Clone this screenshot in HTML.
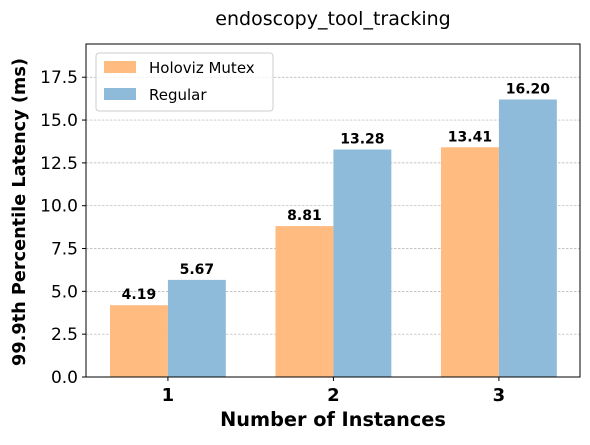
<!DOCTYPE html>
<html><head><meta charset="utf-8"><style>
body{margin:0;background:#fff;}
svg text{font-family:"DejaVu Sans","Liberation Sans",sans-serif;}
</style></head><body>
<svg id="chart" width="590" height="440" xmlns="http://www.w3.org/2000/svg">
<text x="333" y="25" text-anchor="middle" font-size="19">endoscopy_tool_tracking</text>
<g id="grid"></g>
<g id="bars"></g>
<rect x="86" y="44" width="494" height="333" fill="none" stroke="#000" stroke-width="1"/>
<g id="axes"></g>
<text x="333" y="426" text-anchor="middle" font-size="19.3" font-weight="bold">Number of Instances</text>
<text transform="translate(25,212) rotate(-90)" text-anchor="middle" font-size="17.7" font-weight="bold">99.9th Percentile Latency (ms)</text>
<g>
<rect x="96" y="53" width="177" height="58" rx="3" fill="#fff" fill-opacity="0.8" stroke="#ccc"/>
<rect x="104" y="61" width="32" height="12" fill="#ffbb80"/>
<text x="149" y="73" font-size="15">Holoviz Mutex</text>
<rect x="104" y="88" width="32" height="12" fill="#8ebbda"/>
<text x="149" y="100" font-size="15">Regular</text>
</g>
</svg>
<script>
const categories=["1","2","3"];
const holovizValues=[4.19,8.81,13.41];
const regularValues=[5.67,13.28,16.20];
const yTicks=[0,2.5,5,7.5,10,12.5,15,17.5];
const NS="http://www.w3.org/2000/svg";
const L=86,R=580,T=44,B=377,ymax=19.44,xmin=-0.495,xmax=2.49;
const y=v=>B-(v/ymax)*(B-T);
const x=v=>L+(v-xmin)/(xmax-xmin)*(R-L);
const bw=0.35*(R-L)/(xmax-xmin);
function mk(tag,attrs,parent){const e=document.createElementNS(NS,tag);for(const k in attrs)e.setAttribute(k,attrs[k]);parent.appendChild(e);return e;}
const grid=document.getElementById('grid'),bars=document.getElementById('bars'),axes=document.getElementById('axes');
yTicks.forEach(t=>{
 const g=mk('line',{x1:L,x2:R,y1:y(t),y2:y(t),stroke:'#b0b0b0','stroke-width':0.7,'stroke-dasharray':'2.5,1.5'},grid);
 
 
 const tk=mk('line',{x1:L-4,x2:L,y1:y(t),y2:y(t),stroke:'#000'},axes);
 
 
 const tx=mk('text',{x:L-8,y:y(t)+6,'text-anchor':'end','font-size':17},axes);
 tx.textContent=t.toFixed(1);
 
 
});
categories.forEach((c,i)=>{
 const cx=x(i);
 [[holovizValues[i],'#ffbb80',-1,'bar-holoviz'],[regularValues[i],'#8ebbda',0,'bar-regular']].forEach(([v,col,off,nm])=>{
  const bx=cx+off*bw;
  const r=mk('rect',{x:bx,y:y(v),width:bw,height:B-y(v),fill:col},bars);
  
  
  const lb=mk('text',{x:bx+bw/2,y:y(v)-6,'text-anchor':'middle','font-size':14,'font-weight':'bold'},bars);
  lb.textContent=v.toFixed(2);
  
  
 });
 const tk=mk('line',{x1:cx,x2:cx,y1:B,y2:B+4,stroke:'#000'},axes);
 
 
 const tx=mk('text',{x:cx,y:B+24,'text-anchor':'middle','font-size':18,'font-weight':'bold'},axes);
 tx.textContent=c;
 
 
});
</script>
</body></html>
